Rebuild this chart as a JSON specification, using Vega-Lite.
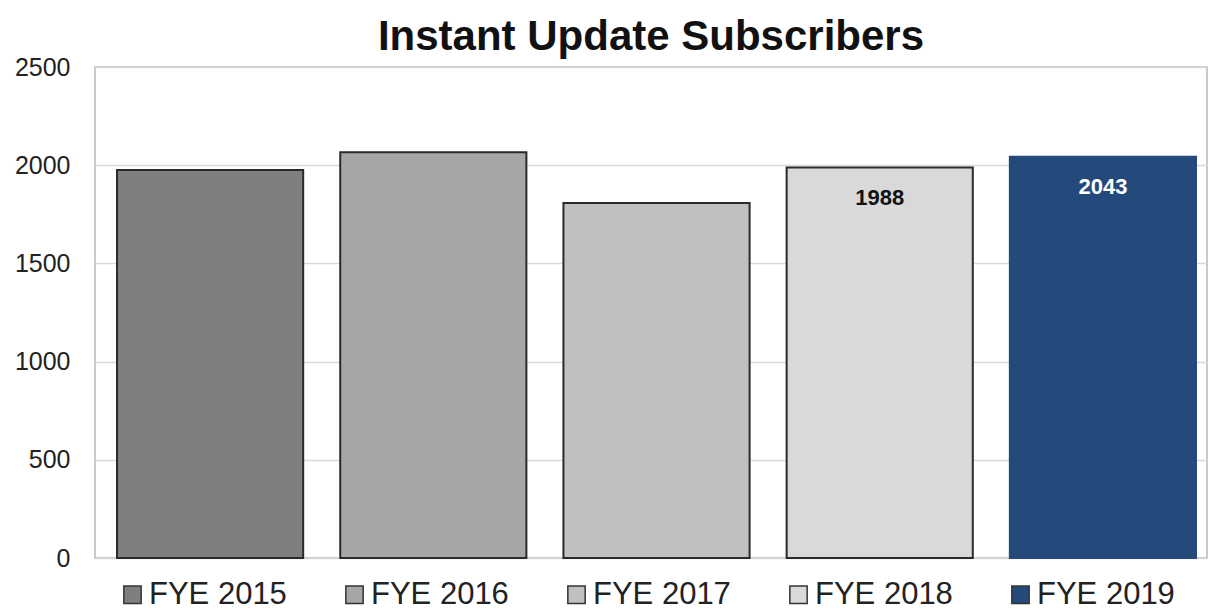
{
  "$schema": "https://vega.github.io/schema/vega-lite/v6.json",
  "width": 1112,
  "height": 491,
  "autosize": {"type": "none"},
  "padding": {"left": 95, "top": 67, "right": 2, "bottom": 55},
  "background": "white",
  "title": {
    "text": "Instant Update Subscribers",
    "font": "Liberation Sans",
    "fontSize": 42,
    "fontWeight": "bold",
    "color": "#111111",
    "anchor": "middle",
    "frame": "group",
    "baseline": "bottom",
    "offset": 4,
    "dy": 50
  },
  "config": {
    "view": {"stroke": "#b8b8b8", "strokeWidth": 1.5},
    "font": "Liberation Sans"
  },
  "data": {
    "values": [
      {"year": "FYE 2015", "subscribers": 1975},
      {"year": "FYE 2016", "subscribers": 2066},
      {"year": "FYE 2017", "subscribers": 1807},
      {"year": "FYE 2018", "subscribers": 1988},
      {"year": "FYE 2019", "subscribers": 2043}
    ]
  },
  "encoding": {
    "x": {
      "field": "year",
      "type": "nominal",
      "axis": null,
      "scale": {"paddingInner": 0.166, "paddingOuter": 0.074, "align": 0.667}
    },
    "y": {
      "field": "subscribers",
      "type": "quantitative",
      "scale": {"domain": [0, 2500]},
      "axis": {
        "title": null,
        "values": [0, 500, 1000, 1500, 2000, 2500],
        "format": "d",
        "ticks": false,
        "domain": false,
        "gridColor": "#d9d9d9",
        "gridWidth": 1.5,
        "labelFontSize": 25,
        "labelColor": "#222222",
        "labelPadding": 25,
        "labelFont": "Liberation Sans"
      }
    }
  },
  "layer": [
    {
      "mark": {"type": "bar", "strokeWidth": 2},
      "encoding": {
        "color": {
          "field": "year",
          "type": "nominal",
          "scale": {
            "domain": ["FYE 2015", "FYE 2016", "FYE 2017", "FYE 2018", "FYE 2019"],
            "range": ["#7f7f81", "#a6a6a6", "#c0c0c2", "#d9d9d9", "#244a7b"]
          },
          "legend": {
            "title": null,
            "orient": "none",
            "legendX": 22,
            "legendY": 512,
            "direction": "horizontal",
            "symbolType": "square",
            "symbolSize": 300,
            "symbolStrokeColor": "#333333",
            "symbolStrokeWidth": 1.5,
            "symbolOpacity": 1,
            "labelFontSize": 31,
            "labelFont": "Liberation Sans",
            "labelColor": "#222222",
            "labelOffset": 1,
            "columnPadding": 52,
            "padding": 0
          }
        },
        "stroke": {
          "condition": {"test": "datum.year === 'FYE 2019'", "value": "#244a7b"},
          "value": "#2a2a2a"
        }
      }
    },
    {
      "transform": [{"filter": "datum.year === 'FYE 2018' || datum.year === 'FYE 2019'"}],
      "mark": {
        "type": "text",
        "baseline": "middle",
        "align": "center",
        "dy": 30,
        "fontSize": 22,
        "fontWeight": "bold",
        "font": "Liberation Sans"
      },
      "encoding": {
        "text": {"field": "subscribers", "type": "quantitative"},
        "color": {
          "condition": {"test": "datum.year === 'FYE 2019'", "value": "white"},
          "value": "#111111"
        }
      }
    }
  ]
}
